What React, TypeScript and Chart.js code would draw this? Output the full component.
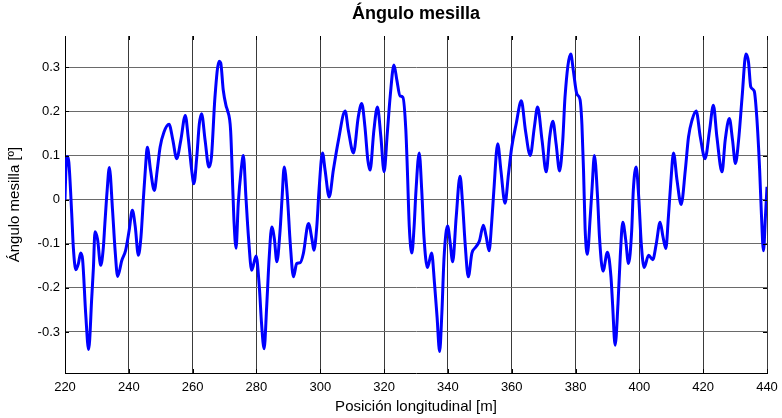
import React, { useEffect, useRef } from "react";
import { Chart, registerables } from "chart.js";

Chart.register(...registerables);

const chartTitle = "Ángulo mesilla";
const xTitle = "Posición longitudinal [m]";
const yTitle = "Ángulo mesilla [º]";

const xTicks = [220, 240, 260, 280, 300, 320, 340, 360, 380, 400, 420, 440];
const yTicks = [-0.3, -0.2, -0.1, 0, 0.1, 0.2, 0.3];
const xRange = [220, 440];
const yRange = [-0.393, 0.371];

const position = [
  220.0, 220.3, 220.7, 221.2, 222.1, 222.6, 223.4, 224.2, 224.9, 225.5,
  226.5, 227.4, 228.4, 228.9, 229.4, 230.2, 231.2, 232.0, 232.5, 233.2,
  233.9, 234.9, 235.7, 236.5, 237.8, 239.0, 240.1, 241.1, 242.0, 243.0,
  243.8, 244.6, 245.2, 245.8, 246.8, 248.0, 248.9, 249.8, 251.0, 252.6,
  253.8, 255.0, 256.3, 257.7, 258.6, 259.7, 260.4, 261.3, 262.1, 262.8,
  263.9, 265.1, 265.9, 267.0, 268.3, 268.8, 269.6, 270.5, 270.9, 271.9,
  272.6, 273.0, 273.6, 274.3, 275.2, 275.9, 276.7, 277.5, 278.5, 279.9,
  280.9, 281.6, 282.4, 283.2, 284.0, 284.8, 285.6, 286.4, 287.4, 288.0,
  288.7, 289.7, 290.6, 291.6, 292.6, 293.7, 294.7, 296.3, 297.4, 298.0,
  298.9, 299.6, 300.7, 301.5, 302.8, 304.1, 305.7, 307.8, 308.8, 310.4,
  311.9, 313.0, 314.0, 314.9, 315.6, 316.8, 317.9, 319.0, 320.0, 321.0,
  321.9, 323.1, 324.0, 325.0, 325.9, 326.8, 327.3, 327.9, 328.7, 329.4,
  330.0, 331.0, 331.8, 332.5, 333.6, 334.9, 335.8, 336.6, 337.4, 338.1,
  338.8, 339.9, 340.7, 341.5, 342.6, 343.8, 344.6, 345.4, 346.4, 347.5,
  348.8, 349.9, 351.1, 352.0, 352.9, 353.7, 354.4, 355.6, 356.6, 357.9,
  359.0, 360.0, 361.4, 363.0, 364.3, 365.8, 367.1, 368.1, 369.5, 370.8,
  371.9, 372.9, 373.9, 375.0, 376.0, 376.7, 378.5, 379.3, 380.4, 381.4,
  382.0, 382.5, 383.0, 383.7, 384.6, 385.2, 385.9, 386.9, 387.5, 388.6,
  390.0, 391.1, 391.6, 392.4, 393.3, 394.0, 394.8, 395.7, 396.6, 397.6,
  398.1, 399.0, 399.8, 400.6, 401.5, 402.9, 404.2, 405.3, 406.5, 407.4,
  408.3, 409.1, 409.9, 410.7, 411.8, 413.1, 414.4, 415.4, 416.5, 417.8,
  419.1, 420.6, 422.0, 423.2, 424.3, 425.9, 426.9, 428.2, 429.2, 430.1,
  431.1, 432.2, 433.4, 434.2, 434.9, 436.0, 436.8, 437.7, 438.2, 438.9,
  439.5, 440.0,
];

const angle = [
  0.0, 0.07, 0.098, 0.085, -0.031, -0.107, -0.159, -0.145, -0.121, -0.135,
  -0.26, -0.34, -0.22, -0.155, -0.073, -0.09, -0.149, -0.11, -0.054, 0.02,
  0.073, -0.024, -0.115, -0.174, -0.138, -0.115, -0.07, -0.024, -0.06, -0.126,
  -0.085, 0.006, 0.07, 0.119, 0.067, 0.021, 0.067, 0.119, 0.153, 0.171,
  0.135, 0.093, 0.135, 0.191, 0.142, 0.067, 0.036, 0.097, 0.172, 0.195,
  0.135, 0.074, 0.097, 0.233, 0.314, 0.31, 0.248, 0.212, 0.203, 0.157,
  0.021, -0.054, -0.11, -0.009, 0.067, 0.1, 0.006, -0.085, -0.16, -0.128,
  -0.198, -0.281, -0.338, -0.243, -0.13, -0.062, -0.088, -0.141, -0.07, 0.0,
  0.074, 0.006, -0.1, -0.175, -0.145, -0.143, -0.122, -0.054, -0.09, -0.115,
  -0.062, 0.021, 0.106, 0.067, 0.006, 0.067, 0.135, 0.201, 0.157, 0.106,
  0.187, 0.218, 0.165, 0.09, 0.067, 0.157, 0.21, 0.142, 0.063, 0.15,
  0.233, 0.305, 0.271, 0.235, 0.232, 0.16, 0.067, -0.062, -0.121, -0.062,
  0.021, 0.106, 0.021, -0.085, -0.154, -0.121, -0.19, -0.266, -0.344, -0.258,
  -0.13, -0.06, -0.097, -0.141, -0.039, 0.053, -0.009, -0.1, -0.175, -0.122,
  -0.107, -0.093, -0.058, -0.084, -0.116, -0.054, 0.021, 0.127, 0.067, -0.008,
  0.059, 0.119, 0.172, 0.224, 0.157, 0.1, 0.165, 0.21, 0.135, 0.063,
  0.142, 0.178, 0.127, 0.065, 0.135, 0.233, 0.33, 0.293, 0.24, 0.227,
  0.17, 0.067, -0.066, -0.124, -0.039, 0.029, 0.1, 0.006, -0.085, -0.162,
  -0.119, -0.175, -0.236, -0.33, -0.236, -0.13, -0.051, -0.09, -0.145, -0.07,
  0.021, 0.074, 0.006, -0.1, -0.154, -0.126, -0.136, -0.1, -0.051, -0.084,
  -0.111, -0.039, 0.044, 0.106, 0.044, -0.011, 0.067, 0.142, 0.18, 0.201,
  0.142, 0.093, 0.157, 0.214, 0.142, 0.063, 0.135, 0.184, 0.135, 0.082,
  0.135, 0.233, 0.33, 0.312, 0.256, 0.246, 0.187, 0.067, -0.024, -0.116,
  -0.039, 0.029,
];

const FONT = "'Liberation Sans', Arial, Helvetica, sans-serif";

const innerTicks = {
  id: "innerTicks",
  afterDatasetsDraw(chart: any) {
    const { ctx, chartArea, scales } = chart;
    const len = 4;
    ctx.save();
    ctx.strokeStyle = "#000";
    ctx.lineWidth = 1;
    ctx.beginPath();
    xTicks.forEach((v) => {
      const x = Math.round(scales.x.getPixelForValue(v)) + 0.5;
      ctx.moveTo(x, chartArea.top);
      ctx.lineTo(x, chartArea.top + len);
      ctx.moveTo(x, chartArea.bottom);
      ctx.lineTo(x, chartArea.bottom - len);
    });
    yTicks.forEach((v) => {
      const y = Math.round(scales.y.getPixelForValue(v)) + 0.5;
      ctx.moveTo(chartArea.left, y);
      ctx.lineTo(chartArea.left + len, y);
      ctx.moveTo(chartArea.right, y);
      ctx.lineTo(chartArea.right - len, y);
    });
    ctx.stroke();
    ctx.restore();
  },
};

const areaTitle = {
  id: "areaTitle",
  afterDraw(chart: any) {
    const { ctx, chartArea } = chart;
    ctx.save();
    ctx.fillStyle = "#000";
    ctx.font = `bold 18px ${FONT}`;
    ctx.textAlign = "center";
    ctx.textBaseline = "middle";
    ctx.fillText(chartTitle, (chartArea.left + chartArea.right) / 2, 14);
    ctx.restore();
  },
};

export default function App() {
  const ref = useRef<HTMLCanvasElement>(null);

  useEffect(() => {
    if (!ref.current) return;
    const points = position.map((p, i) => ({ x: p, y: angle[i] }));
    const chart = new Chart(ref.current, {
      type: "line",
      data: {
        datasets: [
          {
            data: points,
            borderColor: "#0000ff",
            borderWidth: 3,
            pointRadius: 0,
            fill: false,
            cubicInterpolationMode: "monotone",
          },
        ],
      },
      options: {
        animation: false,
        responsive: false,
        devicePixelRatio: 1,
        layout: { padding: { left: 0, right: 15, top: 36, bottom: 0 } },
        plugins: {
          legend: { display: false },
          tooltip: { enabled: false },
          title: { display: false },
        },
        scales: {
          x: {
            type: "linear",
            min: xRange[0],
            max: xRange[1],
            afterBuildTicks: (s: any) => {
              s.ticks = xTicks.map((v) => ({ value: v }));
            },
            afterFit: (s: any) => {
              s.height = 45;
              s.paddingRight = 0;
              s.paddingLeft = 0;
            },
            ticks: {
              color: "#000",
              font: { family: FONT, size: 13 },
              padding: 7,
              maxRotation: 0,
              autoSkip: false,
              callback: (v: any) => String(v),
            },
            grid: { color: "#3a3a3a", lineWidth: 1, drawTicks: false },
            border: { display: true, color: "#000", width: 1 },
            title: {
              display: true,
              text: xTitle,
              color: "#000",
              font: { family: FONT, size: 15 },
              padding: { top: 0, bottom: 2 },
            },
          },
          y: {
            type: "linear",
            min: yRange[0],
            max: yRange[1],
            afterBuildTicks: (s: any) => {
              s.ticks = yTicks.map((v) => ({ value: v }));
            },
            afterFit: (s: any) => {
              s.width = 65;
              s.paddingTop = 0;
              s.paddingBottom = 0;
            },
            ticks: {
              color: "#000",
              font: { family: FONT, size: 13 },
              padding: 5,
              autoSkip: false,
              callback: (v: any) => String(Math.round(v * 10) / 10),
            },
            grid: { color: "#6a6a6a", lineWidth: 1, drawTicks: false },
            border: { display: true, color: "#000", width: 1 },
            title: {
              display: true,
              text: yTitle,
              color: "#000",
              font: { family: FONT, size: 15 },
              padding: { top: 6, bottom: 0 },
            },
          },
        },
      },
      plugins: [innerTicks, areaTitle],
    });
    return () => chart.destroy();
  }, []);

  return (
    <div style={{ position: "absolute", left: 0, top: 0, width: 782, height: 418, background: "#fff" }}>
      <canvas ref={ref} width={782} height={418} style={{ display: "block" }} />
    </div>
  );
}
